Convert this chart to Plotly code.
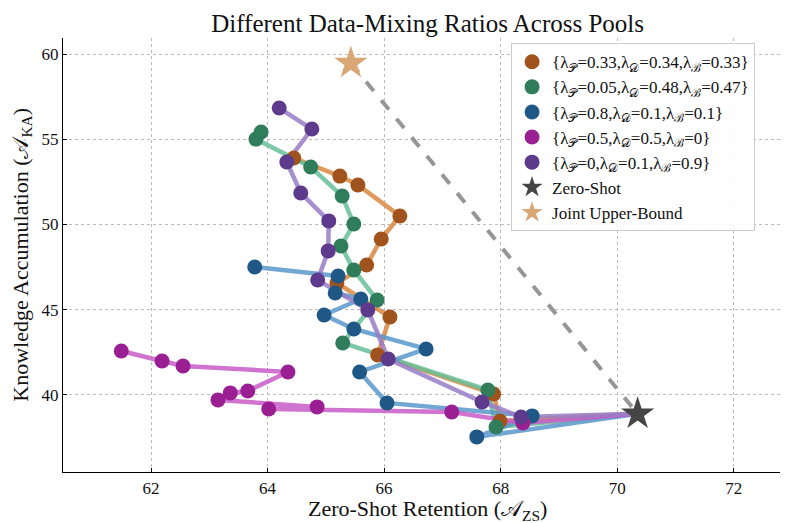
import plotly.graph_objects as go

# ---------------- data ----------------
zero_shot_x, zero_shot_y = 70.35, 38.89
joint_x, joint_y = 65.43, 59.47

series_names = [
    "{λ<sub>𝒫</sub>=0.33,λ<sub>𝒟</sub>=0.34,λ<sub>ℬ</sub>=0.33}",
    "{λ<sub>𝒫</sub>=0.05,λ<sub>𝒟</sub>=0.48,λ<sub>ℬ</sub>=0.47}",
    "{λ<sub>𝒫</sub>=0.8,λ<sub>𝒟</sub>=0.1,λ<sub>ℬ</sub>=0.1}",
    "{λ<sub>𝒫</sub>=0.5,λ<sub>𝒟</sub>=0.5,λ<sub>ℬ</sub>=0}",
    "{λ<sub>𝒫</sub>=0,λ<sub>𝒟</sub>=0.1,λ<sub>ℬ</sub>=0.9}",
]

orange_x = [67.99, 67.88, 65.89, 66.10, 65.19, 65.70, 65.95, 66.27, 65.55, 65.24, 64.45]
orange_y = [38.47, 40.06, 42.35, 44.57, 46.57, 47.62, 49.15, 50.50, 52.32, 52.84, 53.90]

green_x = [67.92, 67.78, 65.29, 65.88, 65.48, 65.26, 65.48, 65.28, 64.74, 63.80, 63.89]
green_y = [38.12, 40.29, 43.05, 45.57, 47.33, 48.74, 50.03, 51.67, 53.37, 55.01, 55.43]

blue_x = [67.59, 68.54, 66.05, 65.58, 66.72, 65.48, 64.97, 65.60, 65.16, 65.21, 63.78]
blue_y = [37.54, 38.77, 39.53, 41.35, 42.70, 43.87, 44.69, 45.63, 45.98, 46.98, 47.51]

magenta_x = [68.38, 67.16, 64.02, 64.85, 63.15, 63.36, 63.66, 64.35, 62.55, 62.19, 61.49]
magenta_y = [38.36, 39.00, 39.18, 39.30, 39.71, 40.12, 40.23, 41.35, 41.70, 41.99, 42.58]

purple_x = [68.35, 67.68, 66.07, 65.72, 64.86, 65.04, 65.05, 64.57, 64.33, 64.76, 64.20]
purple_y = [38.71, 39.59, 42.11, 44.99, 46.74, 48.45, 50.21, 51.85, 53.67, 55.60, 56.83]

x_ticks = [62, 64, 66, 68, 70, 72]
y_ticks = [40, 45, 50, 55, 60]

title_text = "Different Data-Mixing Ratios Across Pools"
x_title = "Zero-Shot Retention (𝒜<sub>ZS</sub>)"
y_title = "Knowledge Accumulation (𝒜<sub>KA</sub>)"

# ---------------- style ----------------
series_x = [orange_x, green_x, blue_x, magenta_x, purple_x]
series_y = [orange_y, green_y, blue_y, magenta_y, purple_y]
marker_colors = ["#a0531d", "#2f7d5a", "#1f5887", "#9a1f93", "#5d3a8c"]
line_colors = ["rgba(217,135,65,0.85)", "rgba(102,190,150,0.85)", "rgba(88,152,202,0.85)",
               "rgba(200,92,200,0.85)", "rgba(152,124,200,0.85)"]

FONT = "Liberation Serif"

fig = go.Figure()

# dashed line joint -> zero-shot
fig.add_trace(go.Scatter(x=[joint_x, zero_shot_x], y=[joint_y, zero_shot_y], mode="lines",
                         line=dict(color="rgba(150,150,150,1)", width=4, dash="dash"),
                         showlegend=False, hoverinfo="skip"))

# lines (start at zero-shot)
for xs, ys, lc in zip(series_x, series_y, line_colors):
    fig.add_trace(go.Scatter(x=[zero_shot_x] + xs, y=[zero_shot_y] + ys, mode="lines",
                             line=dict(color=lc, width=4.5), showlegend=False, hoverinfo="skip"))

# markers
for xs, ys, mc, name in zip(series_x, series_y, marker_colors, series_names):
    fig.add_trace(go.Scatter(x=xs, y=ys, mode="markers", name=name,
                             marker=dict(color=mc, size=15, line=dict(width=0))))

fig.add_trace(go.Scatter(x=[zero_shot_x], y=[zero_shot_y], mode="markers", name="Zero-Shot",
                         marker=dict(symbol="star", color="#454545", size=25, line=dict(width=0))))
fig.add_trace(go.Scatter(x=[joint_x], y=[joint_y], mode="markers", name="Joint Upper-Bound",
                         marker=dict(symbol="star", color="#d8a775", size=25, line=dict(width=0))))

# page body has an 8px default margin: figure is sized so it fills the 788x523 window
fig.update_layout(
    width=780, height=515,
    margin=dict(l=55, r=0, t=30, b=51),
    paper_bgcolor="white", plot_bgcolor="white",
    font=dict(family=FONT, size=16, color="#111"),
    title=dict(text=title_text, x=0.538, xanchor="center",
               y=0.988, yanchor="top", pad=dict(t=0, b=0),
               font=dict(family=FONT, size=25, color="#111")),
    legend=dict(x=0.618, y=0.988, xanchor="left", yanchor="top",
                bordercolor="#cccccc", borderwidth=1, bgcolor="rgba(255,255,255,0.9)",
                font=dict(family=FONT, size=17), tracegroupgap=0, itemsizing="trace"),
    showlegend=True,
    annotations=[
        dict(text=x_title, xref="paper", yref="paper", x=0.503, y=-0.088,
             xanchor="center", yanchor="middle", showarrow=False,
             font=dict(family=FONT, size=22, color="#111")),
        dict(text=y_title, xref="paper", yref="paper", x=-0.057, y=0.5,
             xanchor="center", yanchor="middle", showarrow=False, textangle=-90,
             font=dict(family=FONT, size=22, color="#111")),
    ],
)
common = dict(showgrid=True, gridcolor="#bbbbbb", griddash="dot", gridwidth=1,
              showline=True, linecolor="black", linewidth=1.2, ticks="inside", ticklen=4,
              tickcolor="black", zeroline=False, tickfont=dict(family=FONT, size=17),
              automargin=False)
fig.update_xaxes(range=[60.49, 72.93], tickvals=x_ticks, ticktext=[str(t) for t in x_ticks], **common)
fig.update_yaxes(range=[35.48, 60.94], tickvals=y_ticks, ticktext=[str(t) for t in y_ticks], **common)

fig.write_html("out.html")
